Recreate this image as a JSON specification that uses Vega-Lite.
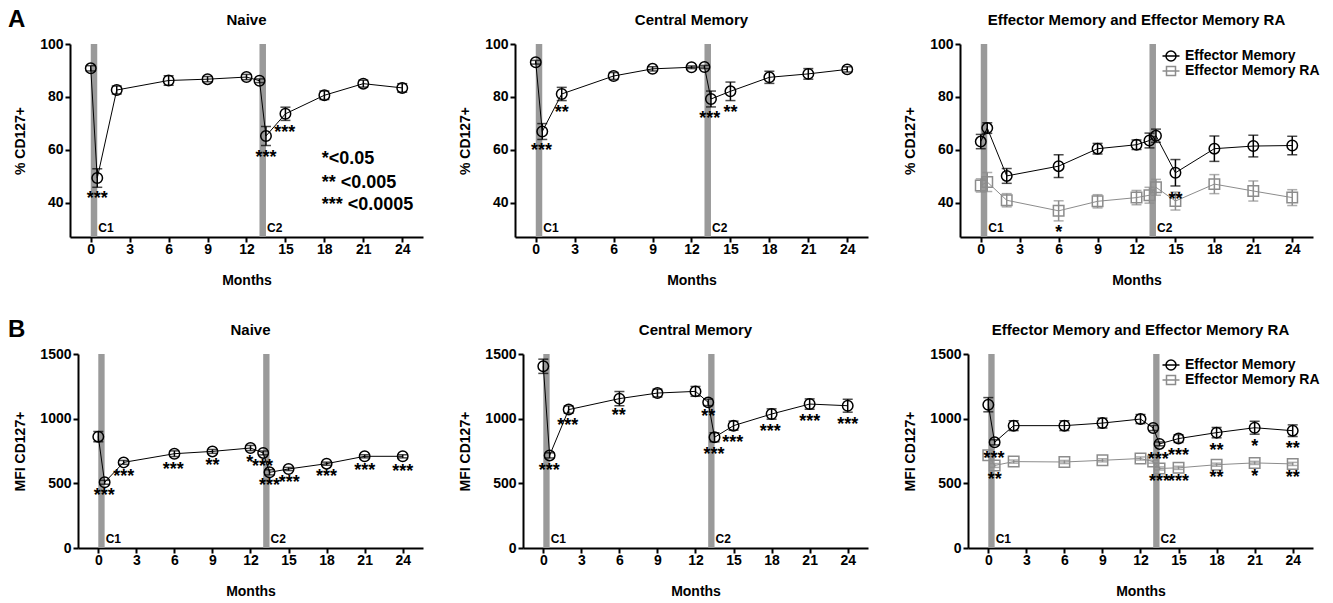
{
"$schema":"https://vega.github.io/schema/vega-lite/v6.json",
"padding":{"left":-42,"top":8,"right":0,"bottom":0},
"datasets":{
"pts":[
{"p":"A1","s":"x","m":0,"v":90.8,"e":1.0},{"p":"A1","s":"x","m":0.5,"v":49.3,"e":3.5},{"p":"A1","s":"x","m":2,"v":82.6,"e":1.5},{"p":"A1","s":"x","m":6,"v":86.2,"e":1.8},{"p":"A1","s":"x","m":9,"v":86.7,"e":1.0},{"p":"A1","s":"x","m":12,"v":87.5,"e":1.0},{"p":"A1","s":"x","m":13,"v":86.1,"e":0.7},{"p":"A1","s":"x","m":13.5,"v":65.2,"e":3.6},{"p":"A1","s":"x","m":15,"v":73.6,"e":2.5},{"p":"A1","s":"x","m":18,"v":80.6,"e":1.6},{"p":"A1","s":"x","m":21,"v":85.0,"e":1.3},{"p":"A1","s":"x","m":24,"v":83.4,"e":1.6},
{"p":"A2","s":"x","m":0,"v":93.1,"e":0.7},{"p":"A2","s":"x","m":0.5,"v":66.9,"e":3.0},{"p":"A2","s":"x","m":2,"v":81.1,"e":2.5},{"p":"A2","s":"x","m":6,"v":87.9,"e":1.3},{"p":"A2","s":"x","m":9,"v":90.6,"e":0.8},{"p":"A2","s":"x","m":12,"v":91.2,"e":0.5},{"p":"A2","s":"x","m":13,"v":91.3,"e":0.6},{"p":"A2","s":"x","m":13.5,"v":79.2,"e":3.0},{"p":"A2","s":"x","m":15,"v":82.1,"e":3.5},{"p":"A2","s":"x","m":18,"v":87.4,"e":2.3},{"p":"A2","s":"x","m":21,"v":88.7,"e":2.0},{"p":"A2","s":"x","m":24,"v":90.4,"e":1.0},
{"p":"A3","s":"Effector Memory","m":0,"v":63.1,"e":2.7},{"p":"A3","s":"Effector Memory","m":0.5,"v":68.2,"e":2.0},{"p":"A3","s":"Effector Memory","m":2,"v":50.1,"e":2.8},{"p":"A3","s":"Effector Memory","m":6,"v":53.8,"e":4.3},{"p":"A3","s":"Effector Memory","m":9,"v":60.4,"e":2.0},{"p":"A3","s":"Effector Memory","m":12,"v":61.9,"e":1.8},{"p":"A3","s":"Effector Memory","m":13,"v":63.5,"e":2.8},{"p":"A3","s":"Effector Memory","m":13.5,"v":65.3,"e":2.5},{"p":"A3","s":"Effector Memory","m":15,"v":51.3,"e":5.0},{"p":"A3","s":"Effector Memory","m":18,"v":60.4,"e":4.8},{"p":"A3","s":"Effector Memory","m":21,"v":61.4,"e":4.1},{"p":"A3","s":"Effector Memory","m":24,"v":61.6,"e":3.5},
{"p":"A3","s":"Effector Memory RA","m":0,"v":46.5,"e":2.5},{"p":"A3","s":"Effector Memory RA","m":0.5,"v":47.8,"e":3.6},{"p":"A3","s":"Effector Memory RA","m":2,"v":40.9,"e":2.5},{"p":"A3","s":"Effector Memory RA","m":6,"v":36.9,"e":3.8},{"p":"A3","s":"Effector Memory RA","m":9,"v":40.5,"e":2.5},{"p":"A3","s":"Effector Memory RA","m":12,"v":41.9,"e":2.7},{"p":"A3","s":"Effector Memory RA","m":13,"v":42.8,"e":3.0},{"p":"A3","s":"Effector Memory RA","m":13.5,"v":45.8,"e":3.0},{"p":"A3","s":"Effector Memory RA","m":15,"v":40.6,"e":3.4},{"p":"A3","s":"Effector Memory RA","m":18,"v":47.0,"e":3.6},{"p":"A3","s":"Effector Memory RA","m":21,"v":44.4,"e":3.8},{"p":"A3","s":"Effector Memory RA","m":24,"v":41.9,"e":3.0},
{"p":"B1","s":"x","m":0,"v":861,"e":40},{"p":"B1","s":"x","m":0.5,"v":508,"e":15},{"p":"B1","s":"x","m":2,"v":662,"e":15},{"p":"B1","s":"x","m":6,"v":729,"e":22},{"p":"B1","s":"x","m":9,"v":747,"e":15},{"p":"B1","s":"x","m":12,"v":773,"e":20},{"p":"B1","s":"x","m":13,"v":735,"e":15},{"p":"B1","s":"x","m":13.5,"v":585,"e":20},{"p":"B1","s":"x","m":15,"v":611,"e":12},{"p":"B1","s":"x","m":18,"v":652,"e":12},{"p":"B1","s":"x","m":21,"v":709,"e":12},{"p":"B1","s":"x","m":24,"v":709,"e":12},
{"p":"B2","s":"x","m":0,"v":1405,"e":55},{"p":"B2","s":"x","m":0.5,"v":716,"e":20},{"p":"B2","s":"x","m":2,"v":1070,"e":28},{"p":"B2","s":"x","m":6,"v":1155,"e":55},{"p":"B2","s":"x","m":9,"v":1198,"e":30},{"p":"B2","s":"x","m":12,"v":1211,"e":38},{"p":"B2","s":"x","m":13,"v":1126,"e":25},{"p":"B2","s":"x","m":13.5,"v":856,"e":35},{"p":"B2","s":"x","m":15,"v":946,"e":35},{"p":"B2","s":"x","m":18,"v":1036,"e":40},{"p":"B2","s":"x","m":21,"v":1113,"e":40},{"p":"B2","s":"x","m":24,"v":1100,"e":50},
{"p":"B3","s":"Effector Memory","m":0,"v":1108,"e":55},{"p":"B3","s":"Effector Memory","m":0.5,"v":817,"e":20},{"p":"B3","s":"Effector Memory","m":2,"v":946,"e":38},{"p":"B3","s":"Effector Memory","m":6,"v":946,"e":38},{"p":"B3","s":"Effector Memory","m":9,"v":966,"e":38},{"p":"B3","s":"Effector Memory","m":12,"v":997,"e":35},{"p":"B3","s":"Effector Memory","m":13,"v":928,"e":20},{"p":"B3","s":"Effector Memory","m":13.5,"v":805,"e":15},{"p":"B3","s":"Effector Memory","m":15,"v":846,"e":30},{"p":"B3","s":"Effector Memory","m":18,"v":892,"e":40},{"p":"B3","s":"Effector Memory","m":21,"v":930,"e":50},{"p":"B3","s":"Effector Memory","m":24,"v":907,"e":45},
{"p":"B3","s":"Effector Memory RA","m":0,"v":717,"e":12},{"p":"B3","s":"Effector Memory RA","m":0.5,"v":638,"e":15},{"p":"B3","s":"Effector Memory RA","m":2,"v":668,"e":12},{"p":"B3","s":"Effector Memory RA","m":6,"v":665,"e":12},{"p":"B3","s":"Effector Memory RA","m":9,"v":678,"e":12},{"p":"B3","s":"Effector Memory RA","m":12,"v":692,"e":12},{"p":"B3","s":"Effector Memory RA","m":13,"v":668,"e":12},{"p":"B3","s":"Effector Memory RA","m":13.5,"v":615,"e":12},{"p":"B3","s":"Effector Memory RA","m":15,"v":620,"e":12},{"p":"B3","s":"Effector Memory RA","m":18,"v":644,"e":12},{"p":"B3","s":"Effector Memory RA","m":21,"v":658,"e":12},{"p":"B3","s":"Effector Memory RA","m":24,"v":650,"e":12}
],
"sig":[
{"p":"A1","m":0.5,"v":43.4,"t":"***"},{"p":"A1","m":13.5,"v":58.9,"t":"***"},{"p":"A1","m":14.95,"v":68.2,"t":"***"},
{"p":"A2","m":0.45,"v":61.4,"t":"***"},{"p":"A2","m":2.0,"v":75.7,"t":"**"},{"p":"A2","m":13.4,"v":73.6,"t":"***"},{"p":"A2","m":15.0,"v":75.7,"t":"**"},
{"p":"A3","m":6.0,"v":30.5,"t":"*"},{"p":"A3","m":15.0,"v":42.8,"t":"**"},
{"p":"B1","m":0.47,"v":438,"t":"***"},{"p":"B1","m":2.0,"v":588,"t":"***"},{"p":"B1","m":5.9,"v":644,"t":"***"},{"p":"B1","m":9.0,"v":670,"t":"**"},{"p":"B1","m":11.95,"v":696,"t":"*"},{"p":"B1","m":12.95,"v":662,"t":"***"},{"p":"B1","m":13.5,"v":515,"t":"***"},{"p":"B1","m":15.05,"v":541,"t":"***"},{"p":"B1","m":18.0,"v":585,"t":"***"},{"p":"B1","m":21.0,"v":631,"t":"***"},{"p":"B1","m":24.0,"v":626,"t":"***"},
{"p":"B2","m":0.47,"v":631,"t":"***"},{"p":"B2","m":1.93,"v":979,"t":"***"},{"p":"B2","m":5.94,"v":1057,"t":"**"},{"p":"B2","m":13.0,"v":1049,"t":"**"},{"p":"B2","m":13.46,"v":760,"t":"***"},{"p":"B2","m":14.93,"v":851,"t":"***"},{"p":"B2","m":17.9,"v":936,"t":"***"},{"p":"B2","m":21.0,"v":1013,"t":"***"},{"p":"B2","m":24.0,"v":992,"t":"***"},
{"p":"B3","m":0.45,"v":729,"t":"***"},{"p":"B3","m":0.5,"v":567,"t":"**"},{"p":"B3","m":13.4,"v":722,"t":"***"},{"p":"B3","m":15.0,"v":751,"t":"***"},{"p":"B3","m":13.5,"v":551,"t":"***"},{"p":"B3","m":15.0,"v":551,"t":"***"},{"p":"B3","m":18,"v":786,"t":"**"},{"p":"B3","m":21,"v":822,"t":"*"},{"p":"B3","m":24,"v":807,"t":"**"},{"p":"B3","m":18,"v":583,"t":"**"},{"p":"B3","m":21,"v":590,"t":"*"},{"p":"B3","m":24,"v":583,"t":"**"}
],
"bands":[{"m":0,"m2":0.5,"label":"C1"},{"m":13,"m2":13.5,"label":"C2"}],
"pval":[{"m":17.8,"v":56.6,"t":"*<0.05"},{"m":17.8,"v":47.5,"t":"** <0.005"},{"m":17.8,"v":39.2,"t":"*** <0.0005"}]
},
"columns":1,
"align":"none",
"spacing":31,
"resolve":{"scale":{"x":"independent","y":"independent","color":"independent","shape":"independent"}},
"concat":[
{"title":{"text":"A","anchor":"start","fontSize":24,"fontWeight":"bold","offset":-19,"dx":50},
"columns":4,"align":"none","spacing":35,
"resolve":{"scale":{"x":"independent","y":"independent","color":"independent","shape":"independent"}},
"concat":[
{"width":0,"height":0,"data":{"values":[]},"mark":{"type":"point"}},
{"width":353,"height":193,"title":"Naive",
"layer":[
{"data":{"name":"bands"},"mark":{"type":"rect","color":"#9a9a9a"},"encoding":{"x":{"field":"m","type":"quantitative","title":"Months","scale":{"domain":[-1.6,25.6],"nice":false,"zero":false},"axis":{"values":[0,3,6,9,12,15,18,21,24]}},"x2":{"field":"m2"},"y":{"datum":27,"type":"quantitative","title":"% CD127+","scale":{"domain":[27,100],"nice":false,"zero":false},"axis":{"values":[40,60,80,100],"titlePadding":12}},"y2":{"datum":100}}},
{"data":{"name":"bands"},"mark":{"type":"text","align":"left","baseline":"bottom","dx":1,"dy":-2,"fontSize":12,"fontWeight":"bold"},"encoding":{"x":{"field":"m2","type":"quantitative","title":"Months"},"y":{"datum":27,"type":"quantitative","title":"% CD127+"},"text":{"field":"label"}}},
{"data":{"name":"pts"},"transform":[{"filter":"datum.p==='A1'"}],"mark":{"type":"line","color":"black","strokeWidth":1},"encoding":{"x":{"field":"m","type":"quantitative","title":"Months"},"y":{"field":"v","type":"quantitative","title":"% CD127+"}}},
{"data":{"name":"pts"},"transform":[{"filter":"datum.p==='A1'"}],"mark":{"type":"errorbar","color":"black","thickness":1.5,"ticks":{"size":10,"thickness":1.5}},"encoding":{"x":{"field":"m","type":"quantitative","title":"Months"},"y":{"field":"v","type":"quantitative","title":"% CD127+"},"yError":{"field":"e"}}},
{"data":{"name":"pts"},"transform":[{"filter":"datum.p==='A1'"}],"mark":{"type":"point","shape":"circle","size":110,"filled":false,"color":"black","strokeWidth":1.5,"opacity":1},"encoding":{"x":{"field":"m","type":"quantitative","title":"Months"},"y":{"field":"v","type":"quantitative","title":"% CD127+"}}},
{"data":{"name":"sig"},"transform":[{"filter":"datum.p==='A1'"}],"mark":{"type":"text","fontSize":18,"fontWeight":"bold","baseline":"alphabetic","dy":10},"encoding":{"x":{"field":"m","type":"quantitative","title":"Months"},"y":{"field":"v","type":"quantitative","title":"% CD127+"},"text":{"field":"t"}}},
{"data":{"name":"pval"},"mark":{"type":"text","align":"left","baseline":"middle","fontSize":18,"fontWeight":"bold"},"encoding":{"x":{"field":"m","type":"quantitative","title":"Months"},"y":{"field":"v","type":"quantitative","title":"% CD127+"},"text":{"field":"t"}}}
]},
{"width":353,"height":193,"title":"Central Memory",
"layer":[
{"data":{"name":"bands"},"mark":{"type":"rect","color":"#9a9a9a"},"encoding":{"x":{"field":"m","type":"quantitative","title":"Months","scale":{"domain":[-1.6,25.6],"nice":false,"zero":false},"axis":{"values":[0,3,6,9,12,15,18,21,24]}},"x2":{"field":"m2"},"y":{"datum":27,"type":"quantitative","title":"% CD127+","scale":{"domain":[27,100],"nice":false,"zero":false},"axis":{"values":[40,60,80,100],"titlePadding":12}},"y2":{"datum":100}}},
{"data":{"name":"bands"},"mark":{"type":"text","align":"left","baseline":"bottom","dx":1,"dy":-2,"fontSize":12,"fontWeight":"bold"},"encoding":{"x":{"field":"m2","type":"quantitative","title":"Months"},"y":{"datum":27,"type":"quantitative","title":"% CD127+"},"text":{"field":"label"}}},
{"data":{"name":"pts"},"transform":[{"filter":"datum.p==='A2'"}],"mark":{"type":"line","color":"black","strokeWidth":1},"encoding":{"x":{"field":"m","type":"quantitative","title":"Months"},"y":{"field":"v","type":"quantitative","title":"% CD127+"}}},
{"data":{"name":"pts"},"transform":[{"filter":"datum.p==='A2'"}],"mark":{"type":"errorbar","color":"black","thickness":1.5,"ticks":{"size":10,"thickness":1.5}},"encoding":{"x":{"field":"m","type":"quantitative","title":"Months"},"y":{"field":"v","type":"quantitative","title":"% CD127+"},"yError":{"field":"e"}}},
{"data":{"name":"pts"},"transform":[{"filter":"datum.p==='A2'"}],"mark":{"type":"point","shape":"circle","size":110,"filled":false,"color":"black","strokeWidth":1.5,"opacity":1},"encoding":{"x":{"field":"m","type":"quantitative","title":"Months"},"y":{"field":"v","type":"quantitative","title":"% CD127+"}}},
{"data":{"name":"sig"},"transform":[{"filter":"datum.p==='A2'"}],"mark":{"type":"text","fontSize":18,"fontWeight":"bold","baseline":"alphabetic","dy":10},"encoding":{"x":{"field":"m","type":"quantitative","title":"Months"},"y":{"field":"v","type":"quantitative","title":"% CD127+"},"text":{"field":"t"}}}
]},
{"width":353,"height":193,"title":"Effector Memory and Effector Memory RA",
"resolve":{"scale":{"color":"independent","shape":"independent"}},
"layer":[
{"data":{"name":"bands"},"mark":{"type":"rect","color":"#9a9a9a"},"encoding":{"x":{"field":"m","type":"quantitative","title":"Months","scale":{"domain":[-1.6,25.6],"nice":false,"zero":false},"axis":{"values":[0,3,6,9,12,15,18,21,24]}},"x2":{"field":"m2"},"y":{"datum":27,"type":"quantitative","title":"% CD127+","scale":{"domain":[27,100],"nice":false,"zero":false},"axis":{"values":[40,60,80,100],"titlePadding":12}},"y2":{"datum":100}}},
{"data":{"name":"bands"},"mark":{"type":"text","align":"left","baseline":"bottom","dx":1,"dy":-2,"fontSize":12,"fontWeight":"bold"},"encoding":{"x":{"field":"m2","type":"quantitative","title":"Months"},"y":{"datum":27,"type":"quantitative","title":"% CD127+"},"text":{"field":"label"}}},
{"data":{"name":"pts"},"transform":[{"filter":"datum.p==='A3'"}],"mark":{"type":"line","strokeWidth":1},"encoding":{"x":{"field":"m","type":"quantitative","title":"Months"},"y":{"field":"v","type":"quantitative","title":"% CD127+"},"color":{"field":"s","type":"nominal","scale":{"domain":["Effector Memory","Effector Memory RA"],"range":["#000000","#8c8c8c"]},"legend":null}}},
{"data":{"name":"pts"},"transform":[{"filter":"datum.p==='A3'"}],"mark":{"type":"errorbar","thickness":1.5,"ticks":{"size":10,"thickness":1.5}},"encoding":{"x":{"field":"m","type":"quantitative","title":"Months"},"y":{"field":"v","type":"quantitative","title":"% CD127+"},"yError":{"field":"e"},"color":{"field":"s","type":"nominal","scale":{"domain":["Effector Memory","Effector Memory RA"],"range":["#000000","#8c8c8c"]},"legend":null}}},
{"data":{"name":"pts"},"transform":[{"filter":"datum.p==='A3'"}],"mark":{"type":"point","size":110,"filled":false,"strokeWidth":1.5,"opacity":1},"encoding":{"x":{"field":"m","type":"quantitative","title":"Months"},"y":{"field":"v","type":"quantitative","title":"% CD127+"},"shape":{"field":"s","type":"nominal","scale":{"domain":["Effector Memory","Effector Memory RA"],"range":["circle","square"]},"legend":null},"color":{"field":"s","type":"nominal","scale":{"domain":["Effector Memory","Effector Memory RA"],"range":["#000000","#8c8c8c"]},"legend":null}}},
{"data":{"name":"pts"},"transform":[{"filter":"datum.p==='none'"}],"mark":{"type":"point","filled":false,"strokeWidth":1.5,"opacity":1},"encoding":{"x":{"field":"m","type":"quantitative","title":"Months"},"y":{"field":"v","type":"quantitative","title":"% CD127+"},"shape":{"field":"s","type":"nominal","scale":{"domain":["Effector Memory","Effector Memory RA"],"range":["M-1.7,0H1.7M-1,0A1,1,0,1,1,1,0A1,1,0,1,1,-1,0","M-1.7,0H1.7M-0.9,-0.9H0.9V0.9H-0.9Z"]},"legend":{"orient":"none","legendX":204,"legendY":5,"title":null,"labelFontSize":14,"labelFontWeight":"bold","labelColor":"black","symbolSize":100,"symbolStrokeWidth":1.5,"symbolFillColor":"transparent","labelOffset":7,"rowPadding":-1,"padding":0}},"color":{"field":"s","type":"nominal","scale":{"domain":["Effector Memory","Effector Memory RA"],"range":["#000000","#8c8c8c"]},"legend":{"orient":"none","legendX":204,"legendY":5,"title":null,"labelFontSize":14,"labelFontWeight":"bold","labelColor":"black","symbolSize":100,"symbolStrokeWidth":1.5,"symbolFillColor":"transparent","labelOffset":7,"rowPadding":-1,"padding":0}}}},
{"data":{"name":"sig"},"transform":[{"filter":"datum.p==='A3'"}],"mark":{"type":"text","fontSize":18,"fontWeight":"bold","baseline":"alphabetic","dy":10},"encoding":{"x":{"field":"m","type":"quantitative","title":"Months"},"y":{"field":"v","type":"quantitative","title":"% CD127+"},"text":{"field":"t"}}}
]}
]},
{"title":{"text":"B","anchor":"start","fontSize":24,"fontWeight":"bold","offset":-19,"dx":50},
"columns":4,"align":"none","spacing":35,
"resolve":{"scale":{"x":"independent","y":"independent","color":"independent","shape":"independent"}},
"concat":[
{"width":0,"height":0,"data":{"values":[]},"mark":{"type":"point"}},
{"width":345,"height":194,"title":"Naive",
"layer":[
{"data":{"name":"bands"},"mark":{"type":"rect","color":"#9a9a9a"},"encoding":{"x":{"field":"m","type":"quantitative","title":"Months","scale":{"domain":[-1.6,25.6],"nice":false,"zero":false},"axis":{"values":[0,3,6,9,12,15,18,21,24]}},"x2":{"field":"m2"},"y":{"datum":0,"type":"quantitative","title":"MFI CD127+","scale":{"domain":[0,1500],"nice":false,"zero":false},"axis":{"values":[0,500,1000,1500],"format":"d","titlePadding":12}},"y2":{"datum":1500}}},
{"data":{"name":"bands"},"mark":{"type":"text","align":"left","baseline":"bottom","dx":1,"dy":-2,"fontSize":12,"fontWeight":"bold"},"encoding":{"x":{"field":"m2","type":"quantitative","title":"Months"},"y":{"datum":0,"type":"quantitative","title":"MFI CD127+"},"text":{"field":"label"}}},
{"data":{"name":"pts"},"transform":[{"filter":"datum.p==='B1'"}],"mark":{"type":"line","color":"black","strokeWidth":1},"encoding":{"x":{"field":"m","type":"quantitative","title":"Months"},"y":{"field":"v","type":"quantitative","title":"MFI CD127+"}}},
{"data":{"name":"pts"},"transform":[{"filter":"datum.p==='B1'"}],"mark":{"type":"errorbar","color":"black","thickness":1.5,"ticks":{"size":10,"thickness":1.5}},"encoding":{"x":{"field":"m","type":"quantitative","title":"Months"},"y":{"field":"v","type":"quantitative","title":"MFI CD127+"},"yError":{"field":"e"}}},
{"data":{"name":"pts"},"transform":[{"filter":"datum.p==='B1'"}],"mark":{"type":"point","shape":"circle","size":110,"filled":false,"color":"black","strokeWidth":1.5,"opacity":1},"encoding":{"x":{"field":"m","type":"quantitative","title":"Months"},"y":{"field":"v","type":"quantitative","title":"MFI CD127+"}}},
{"data":{"name":"sig"},"transform":[{"filter":"datum.p==='B1'"}],"mark":{"type":"text","fontSize":18,"fontWeight":"bold","baseline":"alphabetic","dy":10},"encoding":{"x":{"field":"m","type":"quantitative","title":"Months"},"y":{"field":"v","type":"quantitative","title":"MFI CD127+"},"text":{"field":"t"}}}
]},
{"width":345,"height":194,"title":"Central Memory",
"layer":[
{"data":{"name":"bands"},"mark":{"type":"rect","color":"#9a9a9a"},"encoding":{"x":{"field":"m","type":"quantitative","title":"Months","scale":{"domain":[-1.6,25.6],"nice":false,"zero":false},"axis":{"values":[0,3,6,9,12,15,18,21,24]}},"x2":{"field":"m2"},"y":{"datum":0,"type":"quantitative","title":"MFI CD127+","scale":{"domain":[0,1500],"nice":false,"zero":false},"axis":{"values":[0,500,1000,1500],"format":"d","titlePadding":12}},"y2":{"datum":1500}}},
{"data":{"name":"bands"},"mark":{"type":"text","align":"left","baseline":"bottom","dx":1,"dy":-2,"fontSize":12,"fontWeight":"bold"},"encoding":{"x":{"field":"m2","type":"quantitative","title":"Months"},"y":{"datum":0,"type":"quantitative","title":"MFI CD127+"},"text":{"field":"label"}}},
{"data":{"name":"pts"},"transform":[{"filter":"datum.p==='B2'"}],"mark":{"type":"line","color":"black","strokeWidth":1},"encoding":{"x":{"field":"m","type":"quantitative","title":"Months"},"y":{"field":"v","type":"quantitative","title":"MFI CD127+"}}},
{"data":{"name":"pts"},"transform":[{"filter":"datum.p==='B2'"}],"mark":{"type":"errorbar","color":"black","thickness":1.5,"ticks":{"size":10,"thickness":1.5}},"encoding":{"x":{"field":"m","type":"quantitative","title":"Months"},"y":{"field":"v","type":"quantitative","title":"MFI CD127+"},"yError":{"field":"e"}}},
{"data":{"name":"pts"},"transform":[{"filter":"datum.p==='B2'"}],"mark":{"type":"point","shape":"circle","size":110,"filled":false,"color":"black","strokeWidth":1.5,"opacity":1},"encoding":{"x":{"field":"m","type":"quantitative","title":"Months"},"y":{"field":"v","type":"quantitative","title":"MFI CD127+"}}},
{"data":{"name":"sig"},"transform":[{"filter":"datum.p==='B2'"}],"mark":{"type":"text","fontSize":18,"fontWeight":"bold","baseline":"alphabetic","dy":10},"encoding":{"x":{"field":"m","type":"quantitative","title":"Months"},"y":{"field":"v","type":"quantitative","title":"MFI CD127+"},"text":{"field":"t"}}}
]},
{"width":345,"height":194,"title":"Effector Memory and Effector Memory RA",
"resolve":{"scale":{"color":"independent","shape":"independent"}},
"layer":[
{"data":{"name":"bands"},"mark":{"type":"rect","color":"#9a9a9a"},"encoding":{"x":{"field":"m","type":"quantitative","title":"Months","scale":{"domain":[-1.6,25.6],"nice":false,"zero":false},"axis":{"values":[0,3,6,9,12,15,18,21,24]}},"x2":{"field":"m2"},"y":{"datum":0,"type":"quantitative","title":"MFI CD127+","scale":{"domain":[0,1500],"nice":false,"zero":false},"axis":{"values":[0,500,1000,1500],"format":"d","titlePadding":12}},"y2":{"datum":1500}}},
{"data":{"name":"bands"},"mark":{"type":"text","align":"left","baseline":"bottom","dx":1,"dy":-2,"fontSize":12,"fontWeight":"bold"},"encoding":{"x":{"field":"m2","type":"quantitative","title":"Months"},"y":{"datum":0,"type":"quantitative","title":"MFI CD127+"},"text":{"field":"label"}}},
{"data":{"name":"pts"},"transform":[{"filter":"datum.p==='B3'"}],"mark":{"type":"line","strokeWidth":1},"encoding":{"x":{"field":"m","type":"quantitative","title":"Months"},"y":{"field":"v","type":"quantitative","title":"MFI CD127+"},"color":{"field":"s","type":"nominal","scale":{"domain":["Effector Memory","Effector Memory RA"],"range":["#000000","#8c8c8c"]},"legend":null}}},
{"data":{"name":"pts"},"transform":[{"filter":"datum.p==='B3'"}],"mark":{"type":"errorbar","thickness":1.5,"ticks":{"size":10,"thickness":1.5}},"encoding":{"x":{"field":"m","type":"quantitative","title":"Months"},"y":{"field":"v","type":"quantitative","title":"MFI CD127+"},"yError":{"field":"e"},"color":{"field":"s","type":"nominal","scale":{"domain":["Effector Memory","Effector Memory RA"],"range":["#000000","#8c8c8c"]},"legend":null}}},
{"data":{"name":"pts"},"transform":[{"filter":"datum.p==='B3'"}],"mark":{"type":"point","size":110,"filled":false,"strokeWidth":1.5,"opacity":1},"encoding":{"x":{"field":"m","type":"quantitative","title":"Months"},"y":{"field":"v","type":"quantitative","title":"MFI CD127+"},"shape":{"field":"s","type":"nominal","scale":{"domain":["Effector Memory","Effector Memory RA"],"range":["circle","square"]},"legend":null},"color":{"field":"s","type":"nominal","scale":{"domain":["Effector Memory","Effector Memory RA"],"range":["#000000","#8c8c8c"]},"legend":null}}},
{"data":{"name":"pts"},"transform":[{"filter":"datum.p==='none'"}],"mark":{"type":"point","filled":false,"strokeWidth":1.5,"opacity":1},"encoding":{"x":{"field":"m","type":"quantitative","title":"Months"},"y":{"field":"v","type":"quantitative","title":"MFI CD127+"},"shape":{"field":"s","type":"nominal","scale":{"domain":["Effector Memory","Effector Memory RA"],"range":["M-1.7,0H1.7M-1,0A1,1,0,1,1,1,0A1,1,0,1,1,-1,0","M-1.7,0H1.7M-0.9,-0.9H0.9V0.9H-0.9Z"]},"legend":{"orient":"none","legendX":196,"legendY":4,"title":null,"labelFontSize":14,"labelFontWeight":"bold","labelColor":"black","symbolSize":100,"symbolStrokeWidth":1.5,"symbolFillColor":"transparent","labelOffset":7,"rowPadding":-1,"padding":0}},"color":{"field":"s","type":"nominal","scale":{"domain":["Effector Memory","Effector Memory RA"],"range":["#000000","#8c8c8c"]},"legend":{"orient":"none","legendX":196,"legendY":4,"title":null,"labelFontSize":14,"labelFontWeight":"bold","labelColor":"black","symbolSize":100,"symbolStrokeWidth":1.5,"symbolFillColor":"transparent","labelOffset":7,"rowPadding":-1,"padding":0}}}},
{"data":{"name":"sig"},"transform":[{"filter":"datum.p==='B3'"}],"mark":{"type":"text","fontSize":18,"fontWeight":"bold","baseline":"alphabetic","dy":10},"encoding":{"x":{"field":"m","type":"quantitative","title":"Months"},"y":{"field":"v","type":"quantitative","title":"MFI CD127+"},"text":{"field":"t"}}}
]}
]}
],
"config":{
"font":"Liberation Sans",
"view":{"stroke":null},
"axis":{"domainColor":"black","domainWidth":2,"tickColor":"black","tickWidth":2,"tickSize":5,"labelFontSize":14,"labelFontWeight":"bold","labelColor":"black","labelFont":"Liberation Sans","titleFont":"Liberation Sans","titleFontSize":14,"titleFontWeight":"bold","titleColor":"black","grid":false,"labelPadding":2,"labelFlush":false,"labelOverlap":false},
"axisX":{"titlePadding":17,"labelPadding":0},
"axisY":{"titlePadding":12},
"title":{"fontSize":15,"fontWeight":"bold","color":"black","offset":9,"font":"Liberation Sans"},
"text":{"color":"black"}
}
}
